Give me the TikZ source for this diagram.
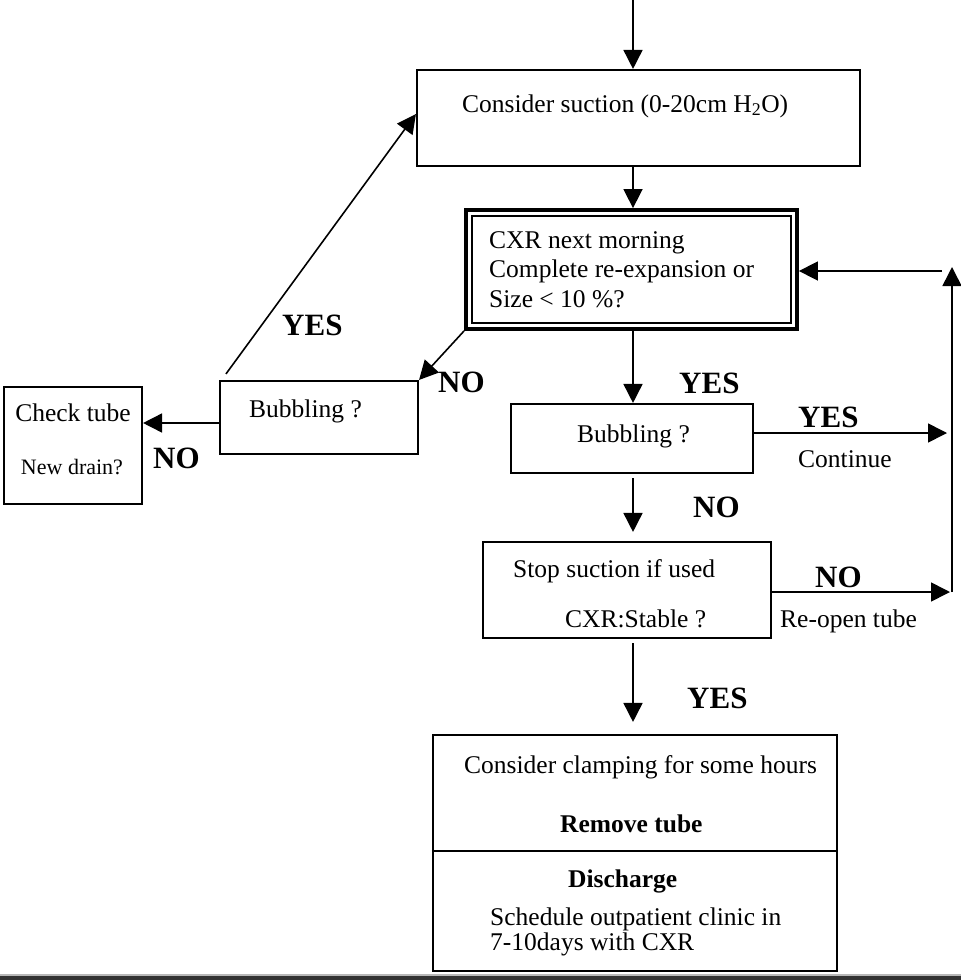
\documentclass[tikz,border=0pt]{standalone}
\usepackage{fontspec}
\setmainfont{Liberation Serif}
\usetikzlibrary{arrows.meta,calc}
\begin{document}
\begin{tikzpicture}[x=1pt,y=-1pt,
  box/.style={draw, line width=2.1pt, inner sep=0pt},
  dbox/.style={draw, line width=3.8pt, inner sep=0pt, outer sep=1.9pt},
  txt/.style={anchor=base west, inner sep=0pt, font=\fontsize{25.5}{30}\selectfont},
  ctxt/.style={txt, anchor=base},
  lbl/.style={anchor=base west, inner sep=0pt, font=\fontsize{31}{36}\selectfont\bfseries},
  arr/.style={-{Triangle[length=19pt,width=19pt]}, line width=1.6pt},
]
\useasboundingbox (0,0) rectangle (961,980);

% boxes
\node[box, minimum width=443pt, minimum height=96pt] (suction) at (638.5,118) {};
\node[dbox, minimum width=331pt, minimum height=119pt] (cxr) at (631.5,269.5) {};
\draw[line width=2.5pt] ([shift={(7.75pt,-7.75pt)}]cxr.north west)
  rectangle ([shift={(-7.75pt,7.75pt)}]cxr.south east);
\node[box, minimum width=198pt, minimum height=73pt] (bub1) at (319,417.5) {};
\node[box, minimum width=138pt, minimum height=117pt] (check) at (73,445.5) {};
\node[box, minimum width=242pt, minimum height=69pt] (bub2) at (632,438.5) {};
\node[box, minimum width=288pt, minimum height=96pt] (stop) at (627,590) {};
\node[box, minimum width=404pt, minimum height=236pt] (final) at (635,853) {};
\coordinate (split) at (0,851);
\draw[line width=2.1pt] (final.west |- split) -- (final.east |- split);

% box texts
\node[txt] (t1) at (462,112) {Consider suction (0-20cm H\textsubscript{2}O)};
\node[txt] (t2a) at (489,248) {CXR next morning};
\node[txt] (t2b) at (489,277) {Complete re-expansion or};
\node[txt] (t2c) at (489,307) {Size < 10 \%?};
\node[txt] (t3) at (249,417) {Bubbling ?};
\node[ctxt] (t4a) at (73,421) {Check tube};
\node[ctxt, font=\fontsize{22}{26}\selectfont] (t4b) at (72,474) {New drain?};
\node[txt] (t5) at (577,442) {Bubbling ?};
\node[txt] (t6a) at (513,577) {Stop suction if used};
\node[txt] (t6b) at (565,627) {CXR:Stable ?};
\node[txt] (t7a) at (464,773) {Consider clamping for some hours};
\node[txt, font=\fontsize{25.5}{30}\selectfont\bfseries] (t7b) at (560,832) {Remove tube};
\node[txt, font=\fontsize{25.5}{30}\selectfont\bfseries] (t7c) at (568,887) {Discharge};
\node[txt] (t7d) at (490,925) {Schedule outpatient clinic in};
\node[txt] (t7e) at (490,950) {7-10days with CXR};

% branch labels
\node[lbl] (l1) at (282,335) {YES};
\node[lbl] (l2) at (438,392) {NO};
\node[lbl] (l3) at (153,468) {NO};
\node[lbl] (l4) at (679,393) {YES};
\node[lbl] (l5) at (798,427) {YES};
\node[txt] (l5t) at (798,467) {Continue};
\node[lbl] (l6) at (693,517) {NO};
\node[lbl] (l7) at (815,587) {NO};
\node[txt] (l7t) at (780,627) {Re-open tube};
\node[lbl] (l8) at (687,708) {YES};

% main spine
\coordinate (entry) at (633,0);
\draw[arr] (entry) -- (entry |- suction.north);
\draw[arr] (suction.south -| entry) -- (cxr.north -| entry);
\draw[arr] (cxr.south -| entry) -- (bub2.north -| entry);
\draw[arr, shorten <=4pt, shorten >=9pt] (bub2.south -| entry) -- (stop.north -| entry);
\draw[arr, shorten <=4pt, shorten >=12pt] (stop.south -| entry) -- (final.north -| entry);

% left branch
\draw[arr] (cxr.south west) -- (bub1.north east);
\draw[arr] ([xshift=7pt,yshift=6pt]bub1.north west) -- ([yshift=4pt]suction.west);
\coordinate (nol) at ([yshift=-5.5pt]bub1.west);
\draw[arr] (nol) -- (nol -| check.east);

% right loop back
\coordinate (railtop) at (952,267);
\coordinate (railbot) at (952,592);
\coordinate (yesr) at ([yshift=5.5pt]bub2.east);
\draw[arr, shorten >=5pt] (yesr) -- (yesr -| railtop);
\draw[arr, shorten >=2pt] (stop.east |- railbot) -- (railbot);
\draw[arr] (railbot) -- (railtop);
\coordinate (back) at (942,271);
\draw[arr] (back) -- (back -| cxr.east);

% bottom edge strip
\fill[gray!55] (0,974) rectangle (961,976);
\fill[black!80] (0,976) rectangle (961,980);
\end{tikzpicture}
\end{document}
